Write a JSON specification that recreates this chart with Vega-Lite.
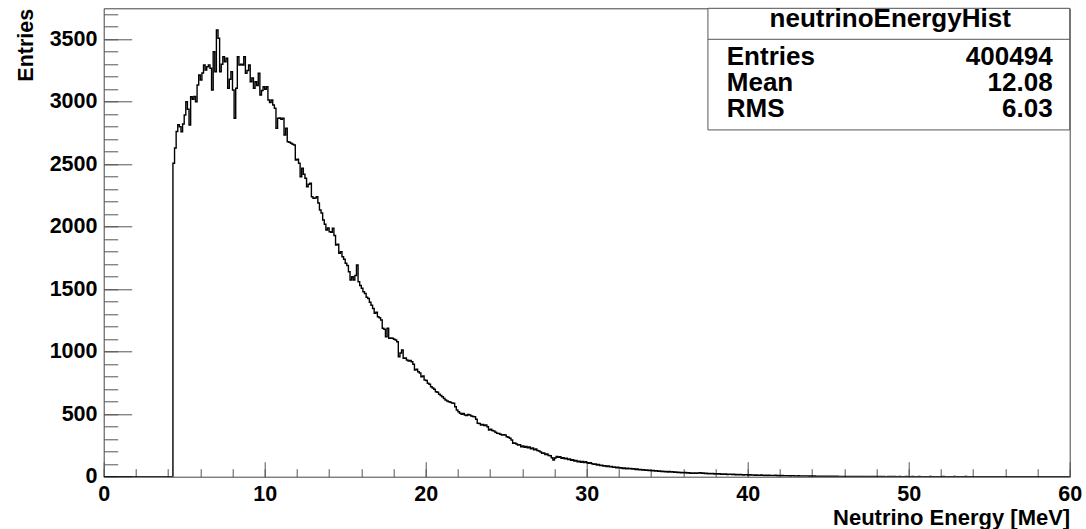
{
  "$schema": "https://vega.github.io/schema/vega-lite/v6.json",
  "width": 966,
  "height": 468.4,
  "autosize": {"type": "none"},
  "padding": {"left": 103.7, "top": 8.3, "right": 16.3, "bottom": 52.3},
  "background": "white",
  "config": {
    "font": "Liberation Sans",
    "view": {"stroke": "#444", "strokeWidth": 1}
  },
  "resolve": {"axis": {"x": "independent", "y": "independent"}},
  "datasets": {
    "hist": [
      {"E":0,"n":0},
      {"E":4.3,"n":2507},{"E":4.4,"n":2630},{"E":4.5,"n":2762},{"E":4.6,"n":2815},{"E":4.7,"n":2800},{"E":4.8,"n":2760},{"E":4.9,"n":2822},
      {"E":5.0,"n":2893},{"E":5.1,"n":3000},{"E":5.2,"n":2940},{"E":5.3,"n":2813},{"E":5.4,"n":3040},{"E":5.5,"n":3020},{"E":5.6,"n":3042},{"E":5.7,"n":3000},{"E":5.8,"n":3133},{"E":5.9,"n":3213},
      {"E":6.0,"n":3173},{"E":6.1,"n":3230},{"E":6.2,"n":3293},{"E":6.3,"n":3253},{"E":6.4,"n":3280},{"E":6.5,"n":3293},{"E":6.6,"n":3267},{"E":6.7,"n":3093},{"E":6.8,"n":3400},{"E":6.9,"n":3240},
      {"E":7.0,"n":3573},{"E":7.1,"n":3507},{"E":7.2,"n":3240},{"E":7.3,"n":3300},{"E":7.4,"n":3360},{"E":7.5,"n":3320},{"E":7.6,"n":3347},{"E":7.7,"n":3107},{"E":7.8,"n":3180},{"E":7.9,"n":3240},
      {"E":8.0,"n":3093},{"E":8.1,"n":2867},{"E":8.2,"n":3107},{"E":8.3,"n":3360},{"E":8.4,"n":3293},{"E":8.5,"n":3300},{"E":8.6,"n":3293},{"E":8.7,"n":3360},{"E":8.8,"n":3227},{"E":8.9,"n":3250},
      {"E":9.0,"n":3293},{"E":9.1,"n":3160},{"E":9.2,"n":3190},{"E":9.3,"n":3107},{"E":9.4,"n":3160},{"E":9.5,"n":3130},{"E":9.6,"n":3227},{"E":9.7,"n":3053},{"E":9.8,"n":3090},{"E":9.9,"n":3120},
      {"E":10.0,"n":3100},{"E":10.1,"n":3120},{"E":10.2,"n":3013},{"E":10.3,"n":2993},{"E":10.4,"n":3013},{"E":10.5,"n":2973},{"E":10.6,"n":2947},{"E":10.7,"n":2787},{"E":10.8,"n":2867},{"E":10.9,"n":2870},
      {"E":11.0,"n":2860},{"E":11.1,"n":2867},{"E":11.2,"n":2733},{"E":11.3,"n":2787},{"E":11.4,"n":2680},{"E":11.5,"n":2675},{"E":11.6,"n":2667},{"E":11.7,"n":2660},{"E":11.8,"n":2653},{"E":11.9,"n":2533},
      {"E":12.0,"n":2540},{"E":12.1,"n":2507},{"E":12.2,"n":2400},{"E":12.3,"n":2467},{"E":12.4,"n":2420},{"E":12.5,"n":2387},{"E":12.6,"n":2320},{"E":12.7,"n":2340},{"E":12.8,"n":2347},{"E":12.9,"n":2240},
      {"E":13.0,"n":2227},{"E":13.1,"n":2230},{"E":13.2,"n":2240},{"E":13.3,"n":2190},{"E":13.4,"n":2133},{"E":13.5,"n":2110},{"E":13.6,"n":2053},{"E":13.7,"n":2020},{"E":13.8,"n":1973},{"E":13.9,"n":1990},
      {"E":14.0,"n":1960},{"E":14.1,"n":1955},{"E":14.2,"n":1987},{"E":14.3,"n":1930},{"E":14.4,"n":1853},{"E":14.5,"n":1860},{"E":14.6,"n":1787},{"E":14.7,"n":1800},{"E":14.8,"n":1760},{"E":14.9,"n":1740},
      {"E":15.0,"n":1707},{"E":15.1,"n":1690},{"E":15.2,"n":1640},{"E":15.3,"n":1573},{"E":15.4,"n":1600},{"E":15.5,"n":1573},{"E":15.6,"n":1610},{"E":15.7,"n":1693},{"E":15.8,"n":1560},{"E":15.9,"n":1530},
      {"E":16.0,"n":1507},{"E":16.1,"n":1480},{"E":16.2,"n":1465},{"E":16.3,"n":1435},{"E":16.4,"n":1425},{"E":16.5,"n":1395},{"E":16.6,"n":1372},{"E":16.7,"n":1345},{"E":16.8,"n":1307},{"E":16.9,"n":1315},
      {"E":17.0,"n":1280},{"E":17.1,"n":1272},{"E":17.2,"n":1253},{"E":17.3,"n":1187},{"E":17.4,"n":1180},{"E":17.5,"n":1120},{"E":17.6,"n":1187},{"E":17.7,"n":1107},{"E":17.8,"n":1110},{"E":17.9,"n":1107},
      {"E":18.0,"n":1100},{"E":18.1,"n":1093},{"E":18.2,"n":1080},{"E":18.3,"n":960},{"E":18.4,"n":990},{"E":18.5,"n":1013},{"E":18.6,"n":947},{"E":18.7,"n":950},{"E":18.8,"n":933},{"E":18.9,"n":925},
      {"E":19.0,"n":930},{"E":19.1,"n":920},{"E":19.2,"n":900},{"E":19.3,"n":853},{"E":19.4,"n":860},{"E":19.5,"n":840},{"E":19.6,"n":830},{"E":19.7,"n":800},{"E":19.8,"n":805},{"E":19.9,"n":773},
      {"E":20.0,"n":770},{"E":20.1,"n":747},{"E":20.2,"n":740},{"E":20.3,"n":720},{"E":20.4,"n":710},{"E":20.5,"n":700},{"E":20.6,"n":680},{"E":20.7,"n":675},{"E":20.8,"n":660},{"E":20.9,"n":650},
      {"E":21.0,"n":640},{"E":21.1,"n":625},{"E":21.2,"n":613},{"E":21.3,"n":605},{"E":21.4,"n":600},{"E":21.5,"n":595},{"E":21.6,"n":590},{"E":21.7,"n":587},{"E":21.8,"n":560},{"E":21.9,"n":533},
      {"E":22.0,"n":520},{"E":22.1,"n":507},{"E":22.2,"n":500},{"E":22.3,"n":505},{"E":22.4,"n":493},{"E":22.5,"n":490},{"E":22.6,"n":497},{"E":22.7,"n":493},{"E":22.8,"n":485},{"E":22.9,"n":482},
      {"E":23.0,"n":480},{"E":23.1,"n":460},{"E":23.2,"n":427},{"E":23.3,"n":425},{"E":23.4,"n":413},{"E":23.5,"n":418},{"E":23.6,"n":410},{"E":23.7,"n":413},{"E":23.8,"n":400},{"E":23.9,"n":373},
      {"E":24.0,"n":380},{"E":24.1,"n":370},{"E":24.2,"n":365},{"E":24.3,"n":355},{"E":24.4,"n":347},{"E":24.5,"n":345},{"E":24.6,"n":340},{"E":24.7,"n":333},{"E":24.8,"n":335},{"E":24.9,"n":333},
      {"E":25.0,"n":320},{"E":25.1,"n":315},{"E":25.2,"n":307},{"E":25.3,"n":293},{"E":25.4,"n":267},{"E":25.5,"n":270},{"E":25.6,"n":262},{"E":25.7,"n":253},{"E":25.8,"n":255},{"E":25.9,"n":240},
      {"E":26.0,"n":245},{"E":26.1,"n":236},{"E":26.2,"n":242},{"E":26.3,"n":231},{"E":26.4,"n":238},{"E":26.5,"n":224},{"E":26.6,"n":229},{"E":26.7,"n":216},{"E":26.8,"n":221},{"E":26.9,"n":209},
      {"E":27.0,"n":205},{"E":27.1,"n":198},{"E":27.2,"n":187},{"E":27.3,"n":190},{"E":27.4,"n":178},{"E":27.5,"n":181},{"E":27.6,"n":170},{"E":27.7,"n":168},{"E":27.8,"n":152},{"E":27.9,"n":134},
      {"E":28.0,"n":150},{"E":28.1,"n":161},{"E":28.2,"n":156},{"E":28.3,"n":159},{"E":28.4,"n":147},{"E":28.5,"n":151},{"E":28.6,"n":144},{"E":28.7,"n":147},{"E":28.8,"n":138},{"E":28.9,"n":141},
      {"E":29.0,"n":132},{"E":29.1,"n":135},{"E":29.2,"n":126},{"E":29.3,"n":129},{"E":29.4,"n":119},{"E":29.5,"n":124},{"E":29.6,"n":116},{"E":29.7,"n":122},{"E":29.8,"n":113},{"E":29.9,"n":119},
      {"E":30.0,"n":112},{"E":30.1,"n":108},{"E":30.2,"n":111},{"E":30.3,"n":104},{"E":30.4,"n":99},{"E":30.5,"n":102},{"E":30.6,"n":94},{"E":30.7,"n":97},{"E":30.8,"n":89},{"E":30.9,"n":92},
      {"E":31.0,"n":86},{"E":31.1,"n":88},{"E":31.2,"n":82},{"E":31.3,"n":85},{"E":31.4,"n":79},{"E":31.5,"n":82},{"E":31.6,"n":76},{"E":31.7,"n":78},{"E":31.8,"n":72},{"E":31.9,"n":75},
      {"E":32.0,"n":70},{"E":32.1,"n":72},{"E":32.2,"n":66},{"E":32.3,"n":69},{"E":32.4,"n":64},{"E":32.5,"n":68},{"E":32.6,"n":63},{"E":32.7,"n":66},{"E":32.8,"n":61},{"E":32.9,"n":63},
      {"E":33.0,"n":58},{"E":33.1,"n":61},{"E":33.2,"n":56},{"E":33.3,"n":58},{"E":33.4,"n":53},{"E":33.5,"n":56},{"E":33.6,"n":51},{"E":33.7,"n":53},{"E":33.8,"n":49},{"E":33.9,"n":51},
      {"E":34.0,"n":47},{"E":34.1,"n":49},{"E":34.2,"n":45},{"E":34.3,"n":47},{"E":34.4,"n":43},{"E":34.5,"n":45},{"E":34.6,"n":41},{"E":34.7,"n":43},{"E":34.8,"n":40},{"E":34.9,"n":42},
      {"E":35.0,"n":38},{"E":35.1,"n":41},{"E":35.2,"n":37},{"E":35.3,"n":39},{"E":35.4,"n":35},{"E":35.5,"n":37},{"E":35.6,"n":34},{"E":35.7,"n":35},{"E":35.8,"n":32},{"E":35.9,"n":34},
      {"E":36.0,"n":31},{"E":36.1,"n":33},{"E":36.2,"n":29},{"E":36.3,"n":31},{"E":36.4,"n":28},{"E":36.5,"n":30},{"E":36.6,"n":27},{"E":36.7,"n":29},{"E":36.8,"n":28},{"E":36.9,"n":30},
      {"E":37.0,"n":31},{"E":37.1,"n":27},{"E":37.2,"n":29},{"E":37.3,"n":25},{"E":37.4,"n":28},{"E":37.5,"n":24},{"E":37.6,"n":26},{"E":37.7,"n":23},{"E":37.8,"n":25},{"E":37.9,"n":22},
      {"E":38.0,"n":24},{"E":38.1,"n":21},{"E":38.2,"n":23},{"E":38.3,"n":20},{"E":38.4,"n":22},{"E":38.5,"n":19},{"E":38.6,"n":21},{"E":38.7,"n":18},{"E":38.8,"n":20},{"E":38.9,"n":19},
      {"E":39.0,"n":17},{"E":39.1,"n":19},{"E":39.2,"n":16},{"E":39.3,"n":18},{"E":39.4,"n":15},{"E":39.5,"n":17},{"E":39.6,"n":16},{"E":39.7,"n":14},{"E":39.8,"n":16},{"E":39.9,"n":15},
      {"E":40.0,"n":14},{"E":40.1,"n":15},{"E":40.2,"n":13},{"E":40.3,"n":14},{"E":40.4,"n":12},{"E":40.5,"n":13},{"E":40.6,"n":12},{"E":40.7,"n":11},{"E":40.8,"n":13},{"E":40.9,"n":11},
      {"E":41.0,"n":10},{"E":41.1,"n":12},{"E":41.2,"n":10},{"E":41.3,"n":11},{"E":41.4,"n":9},{"E":41.5,"n":10},{"E":41.6,"n":9},{"E":41.7,"n":11},{"E":41.8,"n":8},{"E":41.9,"n":9},
      {"E":42.0,"n":8},{"E":42.1,"n":9},{"E":42.2,"n":7},{"E":42.3,"n":8},{"E":42.4,"n":8},{"E":42.5,"n":7},{"E":42.6,"n":6},{"E":42.7,"n":8},{"E":42.8,"n":7},{"E":42.9,"n":6},
      {"E":43.0,"n":6},{"E":43.1,"n":7},{"E":43.2,"n":5},{"E":43.3,"n":6},{"E":43.4,"n":6},{"E":43.5,"n":5},{"E":43.6,"n":5},{"E":43.7,"n":6},{"E":43.8,"n":4},{"E":43.9,"n":5},
      {"E":44.0,"n":4},{"E":44.1,"n":5},{"E":44.2,"n":4},{"E":44.3,"n":4},{"E":44.4,"n":3},{"E":44.5,"n":4},{"E":44.6,"n":3},{"E":44.7,"n":4},{"E":44.8,"n":3},{"E":44.9,"n":3},
      {"E":45.0,"n":3},{"E":45.1,"n":2},{"E":45.2,"n":3},{"E":45.3,"n":3},{"E":45.4,"n":2},{"E":45.5,"n":3},{"E":45.6,"n":2},{"E":45.7,"n":2},{"E":45.8,"n":2},{"E":45.9,"n":2},
      {"E":46.0,"n":2},{"E":46.1,"n":1},{"E":46.2,"n":2},{"E":46.3,"n":2},{"E":46.4,"n":1},{"E":46.5,"n":2},{"E":46.6,"n":1},{"E":46.7,"n":1},{"E":46.8,"n":2},{"E":46.9,"n":1},
      {"E":47.0,"n":1},{"E":47.1,"n":1},{"E":47.2,"n":1},{"E":47.3,"n":0},{"E":47.4,"n":1},{"E":47.5,"n":1},{"E":47.6,"n":0},{"E":47.7,"n":1},{"E":47.8,"n":1},{"E":47.9,"n":0},
      {"E":48.0,"n":1},{"E":48.1,"n":0},{"E":48.2,"n":1},{"E":48.3,"n":0},{"E":48.4,"n":1},{"E":48.5,"n":0},{"E":48.6,"n":0},{"E":48.7,"n":1},{"E":48.8,"n":0},{"E":48.9,"n":1},
      {"E":49.0,"n":0},{"E":49.1,"n":1},{"E":49.2,"n":0},{"E":49.3,"n":0},{"E":49.4,"n":1},{"E":49.5,"n":0},{"E":49.6,"n":0},{"E":49.7,"n":0},{"E":49.8,"n":1},{"E":49.9,"n":0},
      {"E":50.0,"n":0},{"E":50.1,"n":0},{"E":50.2,"n":1},{"E":50.3,"n":0},{"E":50.4,"n":0},{"E":50.5,"n":0},{"E":50.6,"n":1},{"E":50.7,"n":0},{"E":50.8,"n":0},{"E":50.9,"n":0},
      {"E":51.3,"n":1},{"E":51.4,"n":0},{"E":52.1,"n":1},{"E":52.2,"n":0},{"E":52.8,"n":1},{"E":52.9,"n":0},{"E":53.5,"n":1},{"E":53.6,"n":0},
      {"E":60,"n":0}
    ],
    "stats": [
      {"stat": "Entries", "value": "400494"},
      {"stat": "Mean", "value": "12.08"},
      {"stat": "RMS", "value": "6.03"}
    ]
  },
  "layer": [
    {
      "data": {"name": "hist"},
      "mark": {"type": "line", "interpolate": "step-after", "color": "#000000", "strokeWidth": 1.4, "clip": true},
      "encoding": {
        "x": {
          "field": "E", "type": "quantitative",
          "scale": {"domain": [0, 60], "nice": false, "zero": false},
          "axis": {
            "orient": "bottom",
            "title": "Neutrino Energy [MeV]",
            "values": [0,10,20,30,40,50,60],
            "format": "d",
            "domain": false, "grid": false,
            "offset": -15, "tickSize": 15,
            "tickColor": "#555", "tickWidth": 1,
            "labelPadding": 24.3,
            "labelBaseline": "alphabetic",
            "labelFlush": false, "labelOverlap": false, "labelBound": false,
            "labelFont": "Liberation Sans", "labelFontSize": 21.5, "labelFontWeight": "bold", "labelColor": "#000",
            "titleFont": "Liberation Sans", "titleFontSize": 22, "titleFontWeight": "bold", "titleColor": "#000",
            "titleX": 966, "titleY": 62.8, "titleAlign": "right", "titleBaseline": "alphabetic", "titleAnchor": "end"
          }
        },
        "y": {
          "field": "n", "type": "quantitative",
          "scale": {"domain": [0, 3747], "nice": false},
          "axis": {
            "orient": "left",
            "title": "Entries",
            "values": [0,500,1000,1500,2000,2500,3000,3500],
            "format": "d",
            "domain": false, "grid": false,
            "offset": -28, "tickSize": 28,
            "tickColor": "#555", "tickWidth": 1,
            "labelPadding": 6.7,
            "labelBaseline": "middle", "labelAlign": "right",
            "labelFlush": false, "labelOverlap": false, "labelBound": false,
            "labelFont": "Liberation Sans", "labelFontSize": 21.5, "labelFontWeight": "bold", "labelColor": "#000",
            "titleFont": "Liberation Sans", "titleFontSize": 21.5, "titleFontWeight": "bold", "titleColor": "#000",
            "titleX": -105.7, "titleY": 0, "titleAngle": 270, "titleAlign": "right", "titleBaseline": "middle", "titleAnchor": "end"
          }
        }
      }
    },
    {
      "data": {"name": "hist"},
      "mark": {"type": "line", "interpolate": "step-after", "opacity": 0},
      "encoding": {
        "x": {
          "field": "E", "type": "quantitative",
          "axis": {
            "orient": "bottom", "title": null,
            "values": [0,2,4,6,8,10,12,14,16,18,20,22,24,26,28,30,32,34,36,38,40,42,44,46,48,50,52,54,56,58,60],
            "labels": false, "domain": false, "grid": false,
            "offset": -8, "tickSize": 8, "tickColor": "#555", "tickWidth": 1
          }
        },
        "y": {
          "field": "n", "type": "quantitative",
          "axis": {
            "orient": "left", "title": null,
            "values": [0,100,200,300,400,500,600,700,800,900,1000,1100,1200,1300,1400,1500,1600,1700,1800,1900,2000,2100,2200,2300,2400,2500,2600,2700,2800,2900,3000,3100,3200,3300,3400,3500,3600,3700],
            "labels": false, "domain": false, "grid": false,
            "offset": -14, "tickSize": 14, "tickColor": "#555", "tickWidth": 1
          }
        }
      }
    },
    {
      "data": {"name": "stats"},
      "transform": [{"filter": "datum.stat === 'Entries'"}],
      "mark": {"type": "rect", "fill": "white", "stroke": "#555", "strokeWidth": 1},
      "encoding": {
        "x": {"datum": 37.53, "type": "quantitative", "axis": null},
        "x2": {"datum": 60},
        "y": {"datum": 3747, "type": "quantitative", "axis": null},
        "y2": {"datum": 2774}
      }
    },
    {
      "data": {"name": "stats"},
      "transform": [{"filter": "datum.stat === 'Entries'"}],
      "mark": {"type": "rule", "stroke": "#555", "strokeWidth": 1},
      "encoding": {
        "x": {"datum": 37.53, "type": "quantitative", "axis": null},
        "x2": {"datum": 60},
        "y": {"datum": 3499, "type": "quantitative", "axis": null}
      }
    },
    {
      "data": {"name": "stats"},
      "transform": [{"filter": "datum.stat === 'Entries'"}],
      "mark": {"type": "text", "align": "center", "baseline": "alphabetic", "font": "Liberation Sans", "fontSize": 26, "fontWeight": "bold", "color": "#000"},
      "encoding": {
        "x": {"datum": 48.85, "type": "quantitative", "axis": null},
        "y": {"datum": 3595, "type": "quantitative", "axis": null},
        "text": {"value": "neutrinoEnergyHist"}
      }
    },
    {
      "data": {"name": "stats"},
      "transform": [{"filter": "datum.stat === 'Entries'"}],
      "encoding": {"y": {"datum": 3294, "type": "quantitative", "axis": null}},
      "layer": [
        {"mark": {"type": "text", "align": "left", "baseline": "alphabetic", "font": "Liberation Sans", "fontSize": 26, "fontWeight": "bold", "color": "#000"},
         "encoding": {"x": {"datum": 38.7, "type": "quantitative", "axis": null}, "text": {"field": "stat"}}},
        {"mark": {"type": "text", "align": "right", "baseline": "alphabetic", "font": "Liberation Sans", "fontSize": 26, "fontWeight": "bold", "color": "#000"},
         "encoding": {"x": {"datum": 58.94, "type": "quantitative", "axis": null}, "text": {"field": "value"}}}
      ]
    },
    {
      "data": {"name": "stats"},
      "transform": [{"filter": "datum.stat === 'Mean'"}],
      "encoding": {"y": {"datum": 3087, "type": "quantitative", "axis": null}},
      "layer": [
        {"mark": {"type": "text", "align": "left", "baseline": "alphabetic", "font": "Liberation Sans", "fontSize": 26, "fontWeight": "bold", "color": "#000"},
         "encoding": {"x": {"datum": 38.7, "type": "quantitative", "axis": null}, "text": {"field": "stat"}}},
        {"mark": {"type": "text", "align": "right", "baseline": "alphabetic", "font": "Liberation Sans", "fontSize": 26, "fontWeight": "bold", "color": "#000"},
         "encoding": {"x": {"datum": 58.94, "type": "quantitative", "axis": null}, "text": {"field": "value"}}}
      ]
    },
    {
      "data": {"name": "stats"},
      "transform": [{"filter": "datum.stat === 'RMS'"}],
      "encoding": {"y": {"datum": 2880, "type": "quantitative", "axis": null}},
      "layer": [
        {"mark": {"type": "text", "align": "left", "baseline": "alphabetic", "font": "Liberation Sans", "fontSize": 26, "fontWeight": "bold", "color": "#000"},
         "encoding": {"x": {"datum": 38.7, "type": "quantitative", "axis": null}, "text": {"field": "stat"}}},
        {"mark": {"type": "text", "align": "right", "baseline": "alphabetic", "font": "Liberation Sans", "fontSize": 26, "fontWeight": "bold", "color": "#000"},
         "encoding": {"x": {"datum": 58.94, "type": "quantitative", "axis": null}, "text": {"field": "value"}}}
      ]
    }
  ]
}
